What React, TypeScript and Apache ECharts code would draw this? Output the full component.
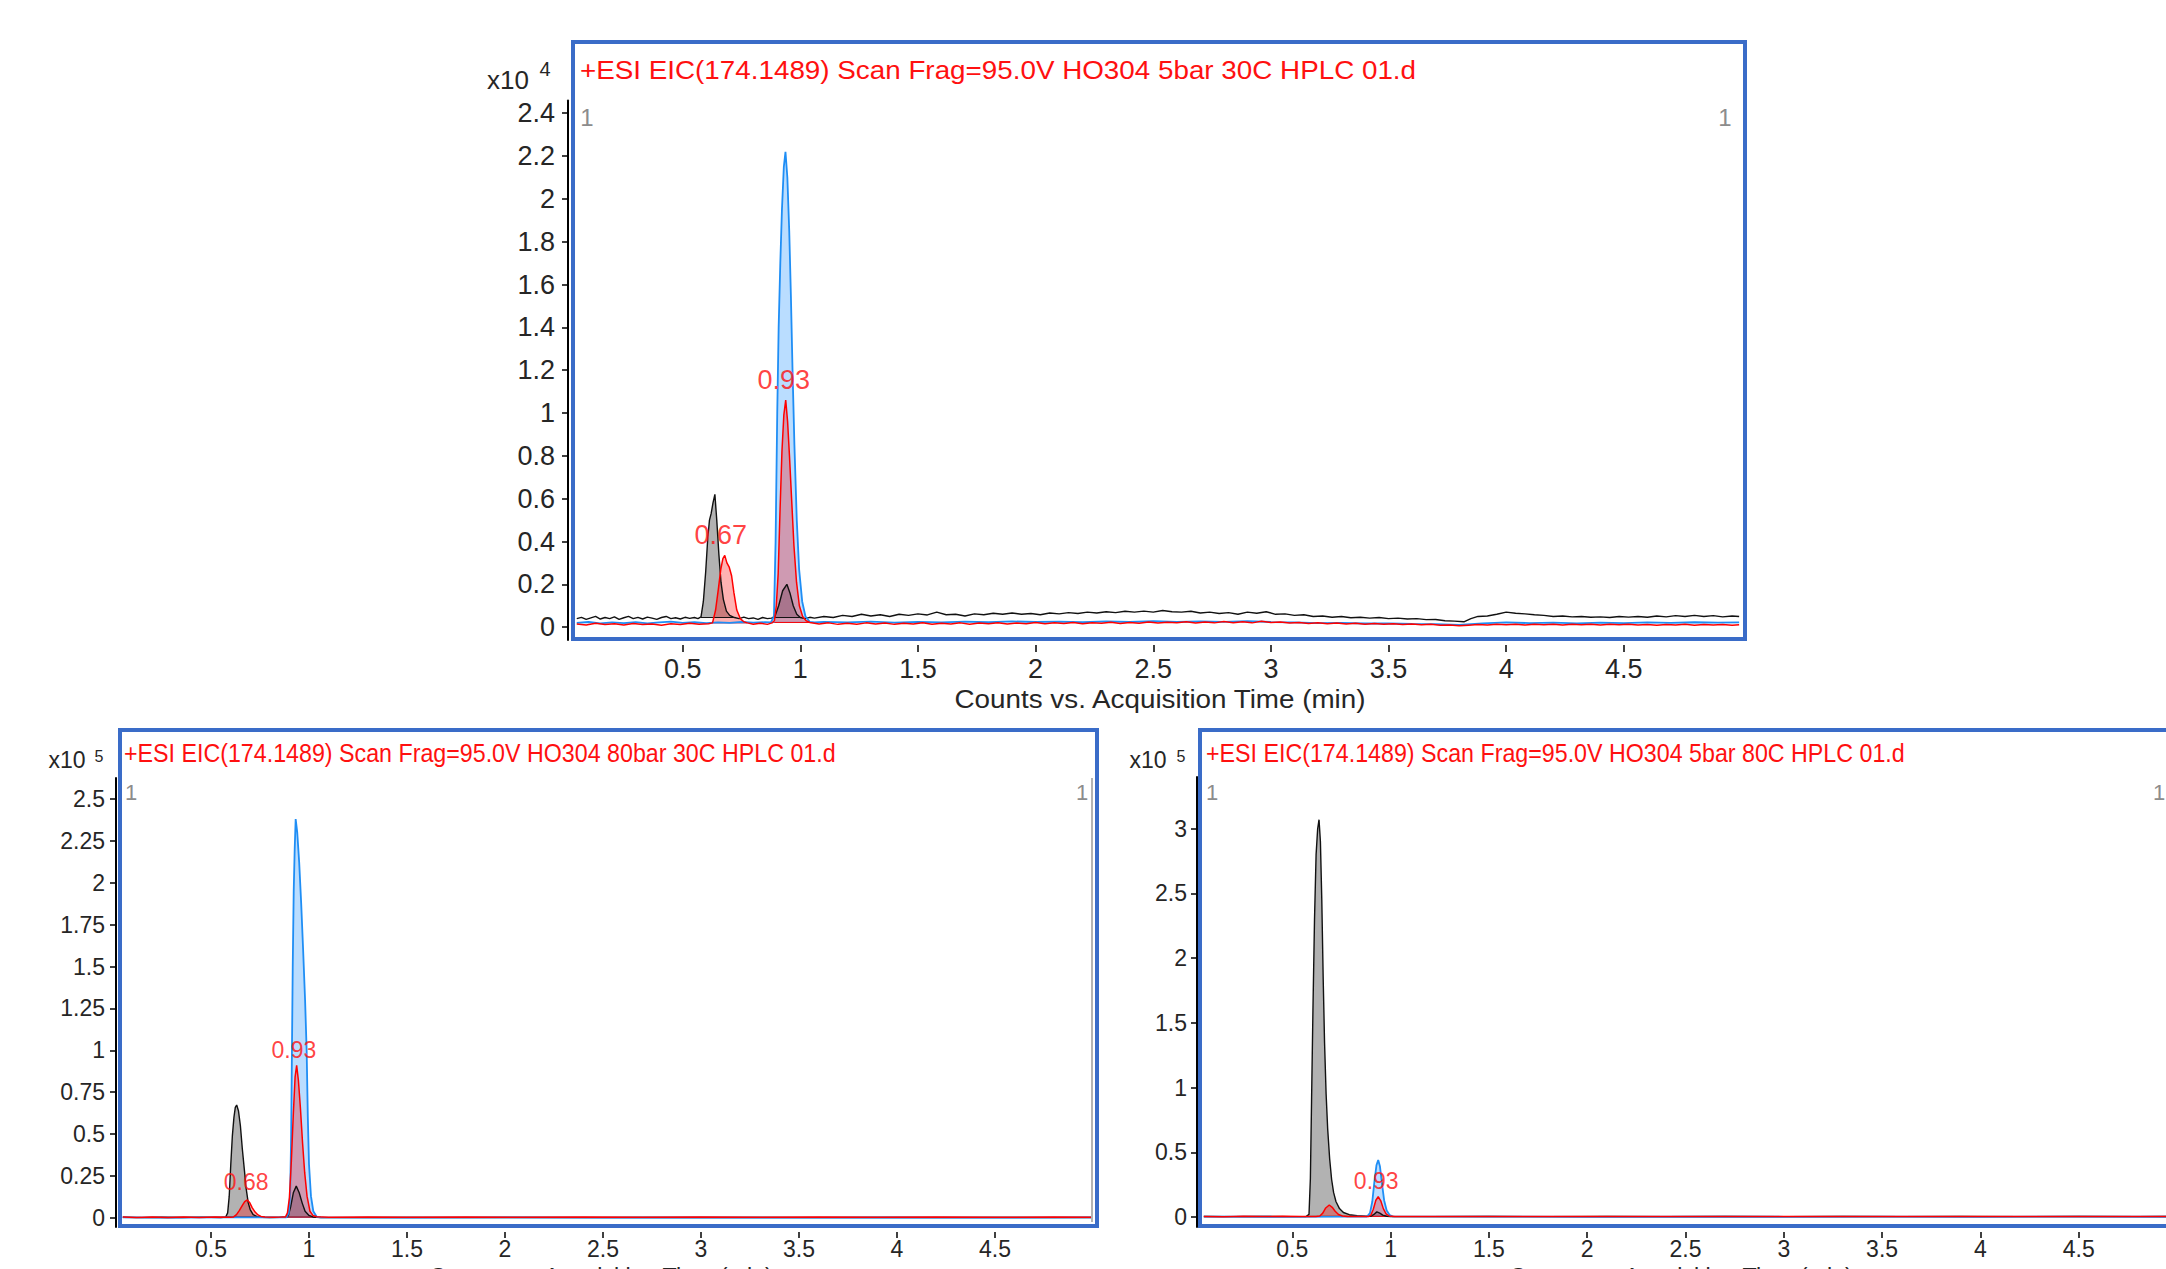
import React, { useEffect, useRef } from "react";
import * as echarts from "echarts";

type Pt = [number, number];
type Win = [number, number, number]; // start, end, integration baseline
type Lab = [number, number, string];

// ---------------- data ----------------
const X_TICKS = [0.5, 1, 1.5, 2, 2.5, 3, 3.5, 4, 4.5];
const TOP_Y_TICKS = [0, 0.2, 0.4, 0.6, 0.8, 1, 1.2, 1.4, 1.6, 1.8, 2, 2.2, 2.4];
const BL_Y_TICKS = [0, 0.25, 0.5, 0.75, 1, 1.25, 1.5, 1.75, 2, 2.25, 2.5];
const BR_Y_TICKS = [0, 0.5, 1, 1.5, 2, 2.5, 3];

const TITLES = [
  "+ESI EIC(174.1489) Scan Frag=95.0V HO304 5bar 30C HPLC 01.d",
  "+ESI EIC(174.1489) Scan Frag=95.0V HO304 80bar 30C HPLC 01.d",
  "+ESI EIC(174.1489) Scan Frag=95.0V HO304 5bar 80C HPLC 01.d",
];
const X_TITLE = "Counts vs. Acquisition Time (min)";
const EXPONENTS = ["4", "5", "5"];
const SCAN_MARK = "1";

// top panel (x10^4 counts)
const TOP_BLACK: Pt[] = [
  [0.05, 0.04], [0.07, 0.046], [0.09, 0.036], [0.11, 0.043], [0.13, 0.05], [0.15, 0.038], [0.17, 0.045], [0.19, 0.04],
  [0.21, 0.048], [0.23, 0.036], [0.25, 0.044], [0.27, 0.05], [0.29, 0.04], [0.31, 0.046], [0.33, 0.038], [0.35, 0.047],
  [0.37, 0.042], [0.39, 0.036], [0.41, 0.045], [0.43, 0.05], [0.45, 0.04], [0.47, 0.044], [0.49, 0.038], [0.51, 0.046],
  [0.53, 0.041], [0.55, 0.045], [0.565, 0.04],
  [0.578, 0.048], [0.588, 0.12], [0.598, 0.26], [0.607, 0.42], [0.614, 0.5], [0.621, 0.53], [0.629, 0.58], [0.637, 0.62],
  [0.645, 0.5], [0.654, 0.34], [0.663, 0.21], [0.673, 0.13], [0.686, 0.075], [0.7, 0.055], [0.72, 0.045],
  [0.74, 0.04], [0.76, 0.047], [0.78, 0.04], [0.8, 0.043], [0.82, 0.036], [0.84, 0.045], [0.86, 0.04], [0.878, 0.042],
  [0.892, 0.05], [0.908, 0.1], [0.925, 0.17], [0.943, 0.2], [0.956, 0.16], [0.97, 0.1], [0.985, 0.06], [1.0, 0.045],
  [1.02, 0.04], [1.04, 0.046], [1.06, 0.042], [1.1, 0.05], [1.14, 0.045], [1.18, 0.055], [1.22, 0.05], [1.26, 0.06],
  [1.3, 0.052], [1.34, 0.058], [1.38, 0.05], [1.42, 0.06], [1.46, 0.055], [1.5, 0.062], [1.54, 0.057], [1.58, 0.07],
  [1.62, 0.058], [1.66, 0.06], [1.7, 0.052], [1.74, 0.062], [1.78, 0.058], [1.82, 0.065], [1.86, 0.06], [1.9, 0.066],
  [1.94, 0.06], [1.98, 0.064], [2.02, 0.058], [2.06, 0.066], [2.1, 0.062], [2.14, 0.068], [2.18, 0.064], [2.22, 0.07],
  [2.26, 0.066], [2.3, 0.072], [2.34, 0.068], [2.38, 0.074], [2.42, 0.07], [2.46, 0.075], [2.5, 0.07], [2.54, 0.078],
  [2.58, 0.072], [2.62, 0.07], [2.66, 0.074], [2.7, 0.066], [2.74, 0.07], [2.78, 0.064], [2.82, 0.068], [2.86, 0.06],
  [2.9, 0.07], [2.94, 0.065], [2.98, 0.072], [3.02, 0.06], [3.06, 0.062], [3.1, 0.055], [3.14, 0.058], [3.18, 0.05],
  [3.22, 0.052], [3.26, 0.046], [3.3, 0.05], [3.34, 0.044], [3.38, 0.046], [3.42, 0.042], [3.46, 0.045], [3.5, 0.04],
  [3.54, 0.042], [3.58, 0.038], [3.62, 0.04], [3.66, 0.035], [3.7, 0.036], [3.74, 0.03], [3.78, 0.028], [3.82, 0.025],
  [3.85, 0.04], [3.88, 0.05], [3.92, 0.052], [3.96, 0.06], [4.0, 0.07], [4.04, 0.065], [4.08, 0.062], [4.12, 0.058],
  [4.16, 0.055], [4.2, 0.05], [4.24, 0.052], [4.28, 0.048], [4.32, 0.05], [4.36, 0.046], [4.4, 0.048], [4.44, 0.045],
  [4.48, 0.05], [4.52, 0.047], [4.56, 0.05], [4.6, 0.046], [4.64, 0.052], [4.68, 0.048], [4.72, 0.054], [4.76, 0.05],
  [4.8, 0.055], [4.84, 0.05], [4.88, 0.054], [4.92, 0.048], [4.96, 0.052], [4.99, 0.05],
];
const TOP_BLUE: Pt[] = [
  [0.05, 0.02], [0.1, 0.024], [0.15, 0.018], [0.2, 0.022], [0.25, 0.019], [0.3, 0.023], [0.35, 0.018], [0.4, 0.022],
  [0.45, 0.026], [0.5, 0.02], [0.55, 0.023], [0.6, 0.019], [0.65, 0.022], [0.7, 0.02], [0.75, 0.024], [0.8, 0.021],
  [0.85, 0.023], [0.875, 0.022],
  [0.888, 0.05], [0.895, 0.4], [0.902, 1.0], [0.908, 1.4], [0.915, 1.7], [0.922, 1.95], [0.93, 2.15], [0.937, 2.22],
  [0.945, 2.1], [0.953, 1.85], [0.96, 1.55], [0.967, 1.2], [0.975, 0.85], [0.985, 0.5], [0.995, 0.27], [1.008, 0.12],
  [1.022, 0.05], [1.04, 0.025], [1.06, 0.022],
  [1.1, 0.025], [1.2, 0.022], [1.3, 0.026], [1.4, 0.021], [1.5, 0.025], [1.6, 0.022], [1.7, 0.026], [1.8, 0.023],
  [1.9, 0.027], [2.0, 0.024], [2.1, 0.026], [2.2, 0.023], [2.3, 0.027], [2.4, 0.024], [2.5, 0.028], [2.6, 0.024],
  [2.7, 0.027], [2.8, 0.025], [2.9, 0.028], [3.0, 0.024], [3.1, 0.022], [3.2, 0.019], [3.3, 0.02], [3.4, 0.017],
  [3.5, 0.018], [3.6, 0.015], [3.7, 0.014], [3.8, 0.011], [3.9, 0.018], [4.0, 0.022], [4.1, 0.019], [4.2, 0.021],
  [4.3, 0.018], [4.4, 0.021], [4.5, 0.019], [4.6, 0.022], [4.7, 0.02], [4.8, 0.023], [4.9, 0.021], [4.99, 0.022],
];
const TOP_RED: Pt[] = [
  [0.05, 0.015], [0.09, 0.01], [0.13, 0.018], [0.17, 0.012], [0.21, 0.016], [0.25, 0.01], [0.29, 0.017], [0.33, 0.012],
  [0.37, 0.015], [0.41, 0.009], [0.45, 0.016], [0.49, 0.012], [0.53, 0.018], [0.57, 0.013], [0.61, 0.016],
  [0.627, 0.02], [0.64, 0.08], [0.652, 0.18], [0.662, 0.27], [0.671, 0.32], [0.679, 0.335], [0.688, 0.3], [0.698, 0.28],
  [0.708, 0.24], [0.718, 0.16], [0.73, 0.08], [0.745, 0.04], [0.76, 0.025], [0.775, 0.02],
  [0.8, 0.014], [0.83, 0.018], [0.86, 0.013], [0.88, 0.02],
  [0.89, 0.03], [0.898, 0.1], [0.906, 0.25], [0.914, 0.55], [0.922, 0.82], [0.93, 0.99], [0.938, 1.06], [0.946, 0.96],
  [0.954, 0.8], [0.963, 0.6], [0.973, 0.38], [0.984, 0.21], [0.996, 0.1], [1.01, 0.05], [1.025, 0.03], [1.04, 0.022],
  [1.08, 0.015], [1.12, 0.02], [1.16, 0.013], [1.2, 0.018], [1.24, 0.014], [1.28, 0.02], [1.32, 0.015], [1.36, 0.019],
  [1.4, 0.013], [1.44, 0.018], [1.48, 0.015], [1.52, 0.021], [1.56, 0.014], [1.6, 0.018], [1.64, 0.015], [1.68, 0.02],
  [1.72, 0.014], [1.76, 0.019], [1.8, 0.016], [1.84, 0.021], [1.88, 0.015], [1.92, 0.019], [1.96, 0.016], [2.0, 0.022],
  [2.04, 0.016], [2.08, 0.02], [2.12, 0.017], [2.16, 0.022], [2.2, 0.016], [2.24, 0.021], [2.28, 0.018], [2.32, 0.023],
  [2.36, 0.017], [2.4, 0.022], [2.44, 0.018], [2.48, 0.024], [2.52, 0.019], [2.56, 0.023], [2.6, 0.02], [2.64, 0.025],
  [2.68, 0.019], [2.72, 0.024], [2.76, 0.02], [2.8, 0.026], [2.84, 0.021], [2.88, 0.025], [2.92, 0.02], [2.96, 0.028],
  [3.0, 0.022], [3.04, 0.024], [3.08, 0.019], [3.12, 0.022], [3.16, 0.017], [3.2, 0.02], [3.24, 0.016], [3.28, 0.019],
  [3.32, 0.015], [3.36, 0.018], [3.4, 0.014], [3.44, 0.017], [3.48, 0.013], [3.52, 0.016], [3.56, 0.012], [3.6, 0.015],
  [3.64, 0.011], [3.68, 0.013], [3.72, 0.009], [3.76, 0.01], [3.8, 0.006], [3.84, 0.009], [3.88, 0.012], [3.92, 0.01],
  [3.96, 0.013], [4.0, 0.011], [4.04, 0.014], [4.08, 0.01], [4.12, 0.013], [4.16, 0.011], [4.2, 0.014], [4.24, 0.01],
  [4.28, 0.013], [4.32, 0.011], [4.36, 0.014], [4.4, 0.01], [4.44, 0.013], [4.48, 0.011], [4.52, 0.014], [4.56, 0.01],
  [4.6, 0.012], [4.64, 0.009], [4.68, 0.012], [4.72, 0.01], [4.76, 0.013], [4.8, 0.009], [4.84, 0.012], [4.88, 0.01],
  [4.92, 0.012], [4.96, 0.009], [4.99, 0.011],
];
const TOP_BLACK_PEAKS: Win[] = [[0.578, 0.72, 0.045], [0.892, 1.0, 0.045]];
const TOP_BLUE_PEAKS: Win[] = [[0.875, 1.06, 0.022]];
const TOP_RED_PEAKS: Win[] = [[0.627, 0.775, 0.02], [0.89, 1.04, 0.022]];
const TOP_PEAK_LABELS: Lab[] = [[0.93, 1.154, "0.93"], [0.662, 0.432, "0.67"]];

// bottom-left panel (x10^5 counts)
const BL_BLACK: Pt[] = [
  [0.05, 0.004], [0.15, 0.002], [0.25, 0.004], [0.35, 0.003], [0.45, 0.005], [0.55, 0.003], [0.575, 0.006],
  [0.585, 0.03], [0.593, 0.13], [0.601, 0.32], [0.609, 0.49], [0.617, 0.6], [0.624, 0.66], [0.631, 0.674],
  [0.64, 0.64], [0.65, 0.55], [0.66, 0.41], [0.67, 0.29], [0.68, 0.17], [0.69, 0.09], [0.7, 0.05], [0.715, 0.02],
  [0.735, 0.008], [0.76, 0.004], [0.8, 0.003], [0.85, 0.004], [0.885, 0.005],
  [0.895, 0.015], [0.907, 0.07], [0.92, 0.15], [0.935, 0.19], [0.95, 0.15], [0.965, 0.09], [0.98, 0.04], [1.0, 0.015],
  [1.02, 0.006], [1.06, 0.003], [1.2, 0.002], [1.5, 0.003], [1.8, 0.002], [2.1, 0.003], [2.4, 0.002], [2.7, 0.003],
  [3.0, 0.002], [3.3, 0.003], [3.6, 0.002], [3.9, 0.003], [4.2, 0.002], [4.5, 0.003], [4.8, 0.002], [4.99, 0.003],
];
const BL_BLUE: Pt[] = [
  [0.05, 0.003], [0.3, 0.002], [0.6, 0.003], [0.85, 0.003], [0.885, 0.004],
  [0.897, 0.03], [0.904, 0.15], [0.909, 0.5], [0.913, 1.0], [0.917, 1.5], [0.922, 1.95], [0.927, 2.2], [0.932, 2.38],
  [0.94, 2.3], [0.95, 2.12], [0.96, 1.88], [0.97, 1.6], [0.98, 1.3], [0.988, 1.0], [0.994, 0.6], [1.0, 0.32],
  [1.01, 0.13], [1.022, 0.04], [1.04, 0.006],
  [1.06, 0.003], [1.5, 0.002], [2.0, 0.003], [2.5, 0.002], [3.0, 0.003], [3.5, 0.002], [4.0, 0.003], [4.5, 0.002],
  [4.99, 0.003],
];
const BL_RED: Pt[] = [
  [0.05, 0.005], [0.12, 0.003], [0.2, 0.006], [0.28, 0.003], [0.36, 0.005], [0.44, 0.003], [0.52, 0.005], [0.6, 0.004],
  [0.615, 0.006], [0.63, 0.02], [0.645, 0.045], [0.66, 0.075], [0.672, 0.098], [0.685, 0.107], [0.698, 0.09],
  [0.71, 0.062], [0.725, 0.035], [0.74, 0.018], [0.755, 0.009], [0.775, 0.005],
  [0.82, 0.004], [0.86, 0.005], [0.88, 0.006],
  [0.89, 0.03], [0.9, 0.12], [0.91, 0.34], [0.92, 0.62], [0.929, 0.84], [0.937, 0.91], [0.946, 0.82], [0.956, 0.66],
  [0.967, 0.45], [0.978, 0.27], [0.99, 0.13], [1.005, 0.04], [1.02, 0.015], [1.04, 0.007],
  [1.1, 0.004], [1.3, 0.005], [1.5, 0.004], [1.8, 0.005], [2.1, 0.004], [2.4, 0.005], [2.7, 0.004], [3.0, 0.005],
  [3.3, 0.004], [3.6, 0.005], [3.9, 0.004], [4.2, 0.005], [4.5, 0.004], [4.8, 0.005], [4.99, 0.004],
];
const BL_BLACK_PEAKS: Win[] = [[0.575, 0.735, 0.006], [0.885, 1.02, 0.005]];
const BL_BLUE_PEAKS: Win[] = [[0.885, 1.04, 0.004]];
const BL_RED_PEAKS: Win[] = [[0.615, 0.775, 0.005], [0.88, 1.04, 0.005]];
const BL_PEAK_LABELS: Lab[] = [[0.923, 1.0, "0.93"], [0.679, 0.212, "0.68"]];

// bottom-right panel (x10^5 counts)
const BR_BLACK: Pt[] = [
  [0.05, 0.004], [0.2, 0.003], [0.35, 0.005], [0.5, 0.003], [0.57, 0.004],
  [0.585, 0.02], [0.592, 0.3], [0.598, 0.9], [0.605, 1.6], [0.613, 2.3], [0.621, 2.8], [0.629, 3.0], [0.636, 3.07],
  [0.643, 2.9], [0.65, 2.45], [0.657, 1.85], [0.664, 1.35], [0.672, 0.95], [0.68, 0.68], [0.69, 0.45], [0.7, 0.29],
  [0.71, 0.19], [0.722, 0.12], [0.74, 0.065], [0.76, 0.035], [0.79, 0.018], [0.83, 0.01], [0.87, 0.006],
  [0.9, 0.006], [0.915, 0.02], [0.93, 0.04], [0.945, 0.03], [0.96, 0.015], [0.98, 0.006],
  [1.0, 0.004], [1.2, 0.003], [1.5, 0.004], [1.8, 0.003], [2.1, 0.004], [2.4, 0.003], [2.7, 0.004], [3.0, 0.003],
  [3.3, 0.004], [3.6, 0.003], [3.9, 0.004], [4.2, 0.003], [4.5, 0.004], [4.8, 0.003], [4.99, 0.004],
];
const BR_BLUE: Pt[] = [
  [0.05, 0.003], [0.4, 0.002], [0.8, 0.003], [0.88, 0.004],
  [0.895, 0.03], [0.907, 0.12], [0.918, 0.28], [0.928, 0.4], [0.937, 0.44], [0.946, 0.39], [0.956, 0.26],
  [0.967, 0.13], [0.98, 0.05], [0.995, 0.015], [1.01, 0.005],
  [1.5, 0.003], [2.0, 0.002], [2.5, 0.003], [3.0, 0.002], [3.5, 0.003], [4.0, 0.002], [4.5, 0.003], [4.99, 0.002],
];
const BR_RED: Pt[] = [
  [0.05, 0.005], [0.15, 0.003], [0.25, 0.006], [0.35, 0.004], [0.45, 0.006], [0.55, 0.004], [0.62, 0.005],
  [0.64, 0.008], [0.655, 0.03], [0.67, 0.07], [0.688, 0.093], [0.703, 0.075], [0.718, 0.045], [0.735, 0.02],
  [0.755, 0.008], [0.78, 0.005],
  [0.85, 0.004], [0.89, 0.005],
  [0.9, 0.015], [0.912, 0.06], [0.925, 0.13], [0.937, 0.157], [0.95, 0.125], [0.963, 0.065], [0.977, 0.025],
  [0.992, 0.008], [1.02, 0.005],
  [1.3, 0.004], [1.6, 0.005], [1.9, 0.004], [2.2, 0.005], [2.5, 0.004], [2.8, 0.005], [3.1, 0.004], [3.4, 0.005],
  [3.7, 0.004], [4.0, 0.005], [4.3, 0.004], [4.6, 0.005], [4.99, 0.004],
];
const BR_BLACK_PEAKS: Win[] = [[0.57, 0.87, 0.005], [0.9, 0.98, 0.005]];
const BR_BLUE_PEAKS: Win[] = [[0.88, 1.01, 0.004]];
const BR_RED_PEAKS: Win[] = [[0.64, 0.78, 0.005], [0.89, 1.02, 0.005]];
const BR_PEAK_LABELS: Lab[] = [[0.927, 0.278, "0.93"]];

// ---------------- styles / layout ----------------
const FONT = "'Liberation Sans', Arial, sans-serif";
const FRAME = "#3a6cc8";
const INK = "#262626";
const RED_TXT = "#ff1010";
const GREY_MARK = "#8c8c8c";

const C_BLACK = "#111111";
const C_BLUE = "#1f8ef5";
const C_RED = "#ff0000";
const F_BLACK = "rgba(0,0,0,0.30)";
const F_BLUE = "rgba(40,150,255,0.32)";
const F_RED = "rgba(255,0,0,0.30)";

type Trace = { data: Pt[]; peaks: Win[]; color: string; fill: string; width: number };

const PANELS = [
  {
    grid: { left: 565, top: 100.4, width: 1176.5, height: 539.6 },
    yMin: -0.06, yMax: 2.46, yTicks: TOP_Y_TICKS,
    yOffset: -3, yLabelMargin: 13, xOffset: 5, xTickLen: 7, xLabelMargin: 10,
    tickFont: 27, peakFont: 27,
    traces: [
      { data: TOP_BLACK, peaks: TOP_BLACK_PEAKS, color: C_BLACK, fill: F_BLACK, width: 1.4 },
      { data: TOP_BLUE, peaks: TOP_BLUE_PEAKS, color: C_BLUE, fill: F_BLUE, width: 1.8 },
      { data: TOP_RED, peaks: TOP_RED_PEAKS, color: C_RED, fill: F_RED, width: 1.5 },
    ] as Trace[],
    labels: TOP_PEAK_LABELS,
    frame: { x: 573, y: 42, w: 1172, h: 597 },
    title: { x: 580, y: 70, size: 26, sx: 1.07 },
    marks: [[587, 117], [1725, 117]],
    markSize: 24,
    x10: { x: 508, y: 80, size: 26, ex: 545, ey: 69, esize: 20 },
    xTitle: { x: 1160, y: 699, size: 26, sx: 1.07 },
  },
  {
    grid: { left: 113, top: 778, width: 980, height: 449 },
    yMin: -0.054, yMax: 2.625, yTicks: BL_Y_TICKS,
    yOffset: -3, yLabelMargin: 11, xOffset: 5, xTickLen: 6, xLabelMargin: 5,
    tickFont: 23, peakFont: 23,
    traces: [
      { data: BL_BLACK, peaks: BL_BLACK_PEAKS, color: C_BLACK, fill: F_BLACK, width: 1.4 },
      { data: BL_BLUE, peaks: BL_BLUE_PEAKS, color: C_BLUE, fill: F_BLUE, width: 1.8 },
      { data: BL_RED, peaks: BL_RED_PEAKS, color: C_RED, fill: F_RED, width: 1.5 },
    ] as Trace[],
    labels: BL_PEAK_LABELS,
    frame: { x: 120, y: 730, w: 977, h: 496 },
    title: { x: 124, y: 753, size: 25, sx: 0.93 },
    marks: [[131, 792], [1082, 792]],
    markSize: 22,
    x10: { x: 67, y: 760, size: 23, ex: 99, ey: 756, esize: 16 },
    xTitle: { x: 601, y: 1277, size: 25, sx: 0.93 },
  },
  {
    grid: { left: 1194, top: 777, width: 983, height: 450 },
    yMin: -0.077, yMax: 3.4, yTicks: BR_Y_TICKS,
    yOffset: -3, yLabelMargin: 10, xOffset: 5, xTickLen: 6, xLabelMargin: 5,
    tickFont: 23, peakFont: 23,
    traces: [
      { data: BR_BLACK, peaks: BR_BLACK_PEAKS, color: C_BLACK, fill: F_BLACK, width: 1.4 },
      { data: BR_BLUE, peaks: BR_BLUE_PEAKS, color: C_BLUE, fill: F_BLUE, width: 1.8 },
      { data: BR_RED, peaks: BR_RED_PEAKS, color: C_RED, fill: F_RED, width: 1.5 },
    ] as Trace[],
    labels: BR_PEAK_LABELS,
    frame: { x: 1200, y: 730, w: 1010, h: 496 },
    title: { x: 1206, y: 753, size: 25, sx: 0.93 },
    marks: [[1212, 792], [2159, 792]],
    markSize: 22,
    x10: { x: 1148, y: 760, size: 23, ex: 1181, ey: 756, esize: 16 },
    xTitle: { x: 1681, y: 1277, size: 25, sx: 0.93 },
  },
];

function txt(x: number, y: number, text: string, size: number, color: string, align = "left", sx = 1): any {
  return {
    type: "text",
    x,
    y,
    scaleX: sx,
    silent: true,
    z: 20,
    style: {
      x: 0,
      y: 0,
      text,
      fill: color,
      fontSize: size,
      fontFamily: FONT,
      textAlign: align,
      textVerticalAlign: "middle",
    },
  };
}

function buildOption() {
  const grid: any[] = [];
  const xAxis: any[] = [];
  const yAxis: any[] = [];
  const series: any[] = [];
  const graphic: any[] = [];

  PANELS.forEach((p, i) => {
    grid.push({ ...p.grid, containLabel: false, outerBoundsMode: "none", show: false });
    xAxis.push({
      type: "value",
      gridIndex: i,
      min: 0,
      max: 5,
      offset: p.xOffset,
      axisLine: { show: false, onZero: false },
      axisTick: {
        show: true,
        length: p.xTickLen,
        customValues: X_TICKS,
        lineStyle: { color: "#000", width: 1.5 },
      },
      axisLabel: {
        show: true,
        customValues: X_TICKS,
        margin: p.xLabelMargin,
        fontSize: p.tickFont,
        fontFamily: FONT,
        color: INK,
      },
      splitLine: { show: false },
    });
    yAxis.push({
      type: "value",
      gridIndex: i,
      min: p.yMin,
      max: p.yMax,
      offset: p.yOffset,
      axisLine: { show: true, onZero: false, lineStyle: { color: "#000", width: 2 } },
      axisTick: {
        show: true,
        length: 6,
        customValues: p.yTicks,
        lineStyle: { color: "#000", width: 1.5 },
      },
      axisLabel: {
        show: true,
        customValues: p.yTicks,
        margin: p.yLabelMargin,
        fontSize: p.tickFont,
        fontFamily: FONT,
        color: INK,
      },
      splitLine: { show: false },
    });

    // integrated peak fills + their baselines
    p.traces.forEach((t) => {
      t.peaks.forEach(([s, e, base]) => {
        series.push({
          type: "line",
          xAxisIndex: i,
          yAxisIndex: i,
          data: t.data.filter((d) => d[0] >= s && d[0] <= e),
          symbol: "none",
          silent: true,
          z: 2,
          lineStyle: { width: 0, color: t.color },
          areaStyle: { origin: base, color: t.fill, opacity: 1 },
        });
        series.push({
          type: "line",
          xAxisIndex: i,
          yAxisIndex: i,
          data: [[s, base], [e, base]],
          symbol: "none",
          silent: true,
          z: 3,
          lineStyle: { width: 1, color: t.color },
        });
      });
    });
    // chromatogram traces
    p.traces.forEach((t) => {
      series.push({
        type: "line",
        xAxisIndex: i,
        yAxisIndex: i,
        data: t.data,
        symbol: "none",
        silent: true,
        z: 4,
        lineStyle: { width: t.width, color: t.color },
      });
    });
    // peak RT labels
    series.push({
      type: "scatter",
      xAxisIndex: i,
      yAxisIndex: i,
      data: p.labels,
      symbolSize: 1,
      silent: true,
      z: 6,
      itemStyle: { color: "rgba(0,0,0,0)" },
      label: {
        show: true,
        position: "inside",
        formatter: (q: any) => q.value[2],
        color: RED_TXT,
        fontSize: p.peakFont,
        fontFamily: FONT,
      },
    });

    // frame and texts
    graphic.push({
      type: "rect",
      shape: { x: p.frame.x, y: p.frame.y, width: p.frame.w, height: p.frame.h },
      style: { fill: "none", stroke: FRAME, lineWidth: 4 },
      silent: true,
      z: 10,
    });
    graphic.push(txt(p.title.x, p.title.y, TITLES[i], p.title.size, RED_TXT, "left", p.title.sx));
    p.marks.forEach(([mx, my]) => graphic.push(txt(mx, my, SCAN_MARK, p.markSize, GREY_MARK, "center")));
    graphic.push(txt(p.x10.x, p.x10.y, "x10", p.x10.size, INK, "center"));
    graphic.push(txt(p.x10.ex, p.x10.ey, EXPONENTS[i], p.x10.esize, INK, "center"));
    graphic.push(txt(p.xTitle.x, p.xTitle.y, X_TITLE, p.xTitle.size, INK, "center", p.xTitle.sx));
  });

  // inner grey plot border on the right of the bottom-left panel
  graphic.push({
    type: "line",
    shape: { x1: 1092, y1: 778, x2: 1092, y2: 1222 },
    style: { stroke: "#9a9a9a", lineWidth: 1.5 },
    silent: true,
    z: 9,
  });

  return {
    animation: false,
    backgroundColor: "#ffffff",
    grid,
    xAxis,
    yAxis,
    series,
    graphic,
  };
}

export default function App() {
  const ref = useRef<HTMLDivElement>(null);
  useEffect(() => {
    if (!ref.current) return;
    const chart = echarts.init(ref.current, undefined, { renderer: "svg" });
    chart.setOption(buildOption() as any);
    return () => chart.dispose();
  }, []);
  return (
    <div
      ref={ref}
      style={{ position: "absolute", left: 0, top: 0, width: 2166, height: 1269, background: "#fff" }}
    />
  );
}
